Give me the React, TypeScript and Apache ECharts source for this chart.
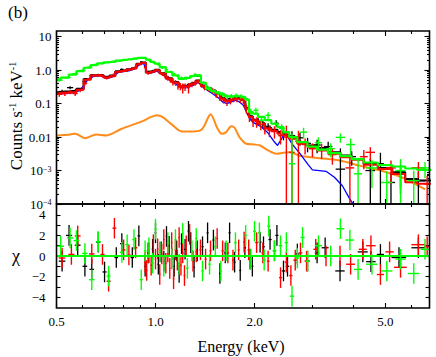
import React, { useEffect, useRef } from "react";
import * as echarts from "echarts";

// ---------------- axis ranges & ticks ----------------
const energyRange = [0.5, 6.81];
const countsRange = [1e-4, 14.8];
const chiRange = [-5.05, 5.05];

const xLabelValues = [0.5, 1.0, 2.0, 5.0];
const xLabelTexts = ["0.5", "1.0", "2.0", "5.0"];
const xMajorTickValues = [0.5, 1.0, 2.0, 5.0];
const xMinorTickValues = [0.6, 0.7, 0.8, 0.9, 3, 4, 6];
const countsDecades = [1e-4, 1e-3, 0.01, 0.1, 1, 10];
const countsDecadeLabels = ["10{s|−4}", "10{s|−3}", "0.01", "0.1", "1.0", "10"];
const chiTickValues = [-4, -3, -2, -1, 0, 1, 2, 3, 4];
const chiLabelValues = [-4, -2, 0, 2, 4];
const chiLabelTexts = ["−4", "−2", "0", "2", "4"];

// ---------------- folded models (counts s^-1 keV^-1) ----------------
const modelEnergy = [0.50,0.53,0.56,0.59,0.62,0.65,0.68,0.71,0.74,0.77,0.80,0.83,0.86,0.89,0.92,0.95,0.98,1.01,1.05,1.10,1.15,1.20,1.25,1.30,1.35,1.40,1.45,1.50,1.55,1.60,1.65,1.70,1.75,1.80,1.85,1.90,1.95,2.0,2.1,2.2,2.3,2.4,2.5,2.6,2.8,3.0,3.2,3.5,3.8,4.1,4.5,5.0,5.5,6.0,6.5,6.9];
const modelBlack = [0.22,0.23,0.24,0.28,0.54, 0.70,0.72,0.63,0.69,0.92, 0.97,1.06,1.14,1.55,1.70, 0.86,0.91,1.03,0.81,0.57, 0.44,0.33,0.345,0.39,0.49, 0.345,0.29,0.245,0.195,0.146, 0.123,0.129,0.145,0.145,0.138, 0.074,0.042,0.033,0.026,0.019, 0.0166,0.0141,0.012,0.010,0.0071, 0.0056,0.0047,0.0035,0.0028,0.0022, 0.0016,0.0012,0.00089,0.00056,0.00050, 0.00050];
const modelRed = [0.20,0.21,0.22,0.26,0.52, 0.69,0.71,0.60,0.66,0.89, 0.95,1.05,1.12,1.51,1.66, 0.83,0.89,1.0,0.79,0.55, 0.42,0.32,0.33,0.38,0.47, 0.33,0.28,0.24,0.19,0.141, 0.120,0.126,0.141,0.141,0.135, 0.071,0.040,0.032,0.025,0.018, 0.015,0.0126,0.0112,0.0089,0.0063, 0.0050,0.0040,0.0032,0.0025,0.0021, 0.0015,0.00112,0.00079,0.00045,0.00040, 0.00040];
const modelGreen = [0.53,0.60,0.74,0.93,1.18, 1.42,1.60,1.72,1.80,1.93, 2.02,2.12,2.22,2.32,2.32, 2.07,1.76,1.56,1.24,0.88, 0.70,0.55,0.59,0.67,0.70, 0.42,0.28,0.234,0.214,0.19, 0.166,0.158,0.166,0.166,0.158, 0.132,0.056,0.050,0.040,0.032, 0.025,0.020,0.0141,0.010,0.0071, 0.0052,0.0042,0.0033,0.0027,0.0022, 0.00174,0.00145,0.00132,0.00115,0.00105, 0.00105];

const blueEnergy = [0.50,0.53,0.56,0.59,0.62,0.65,0.68,0.71,0.74,0.77,0.80,0.83,0.86,0.89,0.92,0.95,0.98,1.01,1.05,1.10,1.15,1.20,1.25,1.30,1.35,1.40,1.45,1.50,1.55,1.60,1.65,1.70,1.75,1.80,1.85,1.90,1.95,2.0,2.1,2.2,2.3,2.35,2.45,2.5,2.6,2.75,2.9,3.0,3.15,3.3,3.5,3.7,3.9,4.05];
const blueValues = [0.19,0.20,0.21,0.25,0.50, 0.66,0.68,0.56,0.63,0.85, 0.91,0.95,1.07,1.41,1.58, 0.79,0.85,0.93,0.74,0.51, 0.39,0.295,0.30,0.35,0.43, 0.295,0.24,0.19,0.151,0.112, 0.10,0.112,0.126,0.112,0.089, 0.050,0.032, 0.026,0.020,0.0132,0.0071,0.0056,0.0112,0.012,0.0063,0.0032,0.00158,0.00105,0.0010,0.00095,0.00063,0.00035,0.00014,0.00008];

const orangeEnergy = [0.50,0.55,0.57,0.61,0.66,0.71,0.79,0.91,0.97,1.01,1.05,1.12,1.20,1.30,1.37,1.41,1.44,1.47,1.50,1.54,1.59,1.64,1.70,1.74,1.80,1.89,2.00,2.08,2.20,2.33,2.45,2.56,2.75,3.16,3.66,4.20,4.84,5.60,6.60];
const orangeValues = [0.0112,0.012,0.0126,0.0093,0.012,0.0112,0.0178,0.0295,0.040,0.045,0.040,0.024,0.0148,0.0148,0.0158,0.0224,0.0355,0.048,0.0355,0.019,0.0126,0.0141,0.021,0.019,0.010,0.0063,0.006,0.0056,0.004,0.0032,0.0034,0.0035,0.00275,0.00234,0.00195,0.00138,0.0010,0.00063,0.000275];

// ---------------- spectra: [E, half bin width, counts, error] ----------------
const dataBlack = [
  [0.52,0.012,0.23,0.03],[0.55,0.012,0.30,0.03],[0.58,0.012,0.26,0.03],[0.61,0.01,0.45,0.05],
  [0.64,0.01,0.70,0.06],[0.67,0.01,0.72,0.06],[0.70,0.01,0.62,0.05],[0.73,0.01,0.66,0.05],
  [0.76,0.01,0.85,0.06],[0.79,0.01,1.05,0.07],[0.82,0.01,1.0,0.07],[0.85,0.01,1.1,0.07],
  [0.88,0.008,1.4,0.08],[0.905,0.008,1.75,0.1],[0.93,0.008,1.3,0.08],[0.955,0.008,0.9,0.07],
  [0.98,0.008,0.95,0.07],[1.0,0.008,1.0,0.07],[1.03,0.01,0.85,0.06],[1.06,0.01,0.78,0.06],
  [1.09,0.01,0.62,0.05],[1.12,0.01,0.52,0.05],[1.15,0.012,0.45,0.04],[1.18,0.012,0.38,0.04],
  [1.22,0.012,0.34,0.04],[1.26,0.015,0.37,0.04],[1.30,0.015,0.41,0.04],[1.34,0.015,0.68,0.06],
  [1.38,0.015,0.36,0.04],[1.43,0.015,0.31,0.035],[1.48,0.02,0.27,0.03],[1.53,0.02,0.21,0.025],
  [1.58,0.02,0.16,0.02],[1.63,0.02,0.13,0.018],[1.68,0.02,0.14,0.018],[1.73,0.02,0.15,0.02],
  [1.78,0.02,0.155,0.02],[1.83,0.02,0.14,0.02],[1.88,0.02,0.085,0.015],[1.93,0.025,0.045,0.01],
  [1.98,0.025,0.034,0.008],[2.05,0.03,0.030,0.007],[2.12,0.03,0.024,0.006],[2.2,0.04,0.021,0.005],
  [2.33,0.04,0.026,0.006],[2.45,0.05,0.012,0.004],[2.6,0.06,0.011,0.004],[2.75,0.07,0.0095,0.004],
  [2.9,0.07,0.0065,0.003],[3.1,0.08,0.0058,0.0025],[3.35,0.10,0.0052,0.002],[3.65,0.12,0.0011,0.0035],
  [3.95,0.12,0.0026,0.0012],[4.5,0.15,0.001,0.0012],[4.83,0.12,0.0016,0.0018],[5.2,0.15,0.00044,0.0004],
  [5.56,0.2,0.00089,0.0006],[6.3,0.3,0.0005,0.0004]
];
const dataRed = [
  [0.51,0.01,0.19,0.03],[0.53,0.01,0.20,0.03],[0.55,0.01,0.22,0.03],[0.57,0.01,0.20,0.03],
  [0.59,0.01,0.25,0.03],[0.61,0.01,0.40,0.05],[0.63,0.01,0.55,0.05],[0.65,0.01,0.68,0.06],
  [0.67,0.01,0.70,0.06],[0.69,0.01,0.66,0.05],[0.71,0.01,0.58,0.05],[0.73,0.01,0.64,0.05],
  [0.75,0.01,0.75,0.06],[0.77,0.01,0.90,0.07],[0.79,0.01,0.92,0.07],[0.81,0.01,0.98,0.07],
  [0.83,0.01,1.02,0.07],[0.85,0.01,1.08,0.08],[0.87,0.008,1.25,0.08],[0.89,0.008,1.5,0.1],
  [0.91,0.008,1.65,0.1],[0.93,0.008,1.2,0.08],[0.95,0.008,0.8,0.07],[0.97,0.008,0.85,0.07],
  [0.99,0.008,0.95,0.07],[1.01,0.008,0.98,0.07],[1.03,0.008,0.85,0.07],[1.05,0.008,0.75,0.08],
  [1.07,0.008,0.66,0.08],[1.09,0.008,0.58,0.1],[1.11,0.008,0.5,0.08],[1.13,0.008,0.45,0.1],
  [1.15,0.008,0.42,0.08],[1.17,0.008,0.36,0.1],[1.19,0.008,0.33,0.08],[1.21,0.008,0.30,0.1],
  [1.23,0.01,0.32,0.08],[1.26,0.01,0.30,0.1],[1.29,0.01,0.38,0.07],[1.32,0.01,0.42,0.07],
  [1.35,0.01,0.46,0.06],[1.38,0.01,0.35,0.05],[1.41,0.012,0.30,0.05],[1.45,0.012,0.27,0.04],
  [1.49,0.012,0.24,0.04],[1.53,0.015,0.19,0.04],[1.57,0.015,0.15,0.03],[1.61,0.015,0.13,0.03],
  [1.65,0.015,0.115,0.03],[1.69,0.015,0.125,0.03],[1.73,0.015,0.14,0.03],[1.77,0.015,0.14,0.03],
  [1.81,0.015,0.135,0.03],[1.85,0.015,0.125,0.03],[1.89,0.02,0.07,0.02],[1.93,0.02,0.04,0.012],
  [1.98,0.02,0.030,0.01],[2.03,0.025,0.029,0.01],[2.09,0.025,0.024,0.008],[2.15,0.03,0.019,0.007],
  [2.22,0.03,0.016,0.006],[2.3,0.04,0.015,0.006],[2.4,0.04,0.011,0.005],[2.5,0.05,0.010,0.012],
  [2.6,0.05,0.0035,0.006],[2.72,0.06,0.0075,0.008],[2.85,0.06,0.006,0.003],[3.0,0.07,0.0045,0.002],
  [3.2,0.08,0.0042,0.002],[3.45,0.1,0.0030,0.0015],[3.9,0.12,0.0012,0.0014],[4.3,0.12,0.0026,0.0015],
  [4.5,0.15,0.0035,0.0015],[5.2,0.18,0.0012,0.0008],[5.56,0.2,0.0008,0.0006],[6.3,0.3,0.0012,0.0006],
  [6.7,0.15,0.0004,0.0003]
];
const dataGreen = [
  [0.51,0.012,0.50,0.05],[0.54,0.012,0.60,0.05],[0.57,0.012,0.78,0.06],[0.60,0.012,0.98,0.07],
  [0.63,0.012,1.22,0.08],[0.66,0.012,1.48,0.09],[0.69,0.012,1.60,0.1],[0.72,0.012,1.73,0.1],
  [0.75,0.012,1.78,0.1],[0.78,0.012,1.93,0.11],[0.81,0.012,2.03,0.11],[0.84,0.012,2.08,0.11],
  [0.87,0.012,2.22,0.12],[0.90,0.012,2.33,0.12],[0.93,0.012,2.28,0.12],[0.96,0.012,1.93,0.11],
  [0.99,0.012,1.68,0.1],[1.02,0.012,1.48,0.1],[1.05,0.012,1.18,0.09],[1.08,0.012,1.03,0.08],
  [1.11,0.012,0.90,0.07],[1.14,0.012,0.77,0.07],[1.17,0.012,0.67,0.06],[1.20,0.012,0.59,0.06],
  [1.24,0.015,0.57,0.06],[1.28,0.015,0.63,0.06],[1.32,0.015,0.74,0.07],[1.36,0.015,0.69,0.07],
  [1.40,0.015,0.42,0.05],[1.45,0.02,0.29,0.04],[1.50,0.02,0.24,0.03],[1.55,0.02,0.21,0.03],
  [1.60,0.02,0.19,0.03],[1.65,0.02,0.165,0.025],[1.70,0.025,0.17,0.025],[1.76,0.025,0.175,0.025],
  [1.82,0.025,0.165,0.025],[1.88,0.03,0.14,0.02],[1.95,0.03,0.058,0.012],[2.02,0.035,0.063,0.012],
  [2.1,0.035,0.032,0.008],[2.2,0.04,0.045,0.01],[2.32,0.05,0.025,0.007],[2.42,0.05,0.018,0.006],
  [2.6,0.06,0.0016,0.011],[2.82,0.07,0.014,0.005],[3.13,0.08,0.0068,0.003],[3.41,0.1,0.0045,0.002],
  [3.65,0.12,0.0098,0.003],[3.92,0.12,0.006,0.003],[4.13,0.12,0.0008,0.0016],[4.55,0.18,0.0012,0.0009],
  [5.05,0.2,0.00044,0.0005],[5.56,0.2,0.001,0.0012],[6.1,0.25,0.0005,0.0005],[6.6,0.25,0.0012,0.0006]
];

// ---------------- residuals: [E, half bin width, chi] ----------------
const resBlack = [
  [0.52,0.012,-0.5],[0.546,0.012,2.0],[0.58,0.012,1.05],[0.61,0.01,-1.0],[0.64,0.01,-1.3],
  [0.67,0.01,1.35],[0.70,0.01,-1.55],[0.76,0.01,-0.15],[0.79,0.01,1.2],[0.85,0.01,-0.15],
  [0.89,0.008,1.95],[0.93,0.006,-1.0],[0.95,0.006,0.3],[0.98,0.006,0.65],[1.0,0.006,2.25],
  [1.02,0.006,-0.8],[1.04,0.006,0.4],[1.06,0.006,-0.5],[1.08,0.006,1.9],[1.10,0.006,0.95],
  [1.12,0.006,-0.2],[1.14,0.006,-1.0],[1.16,0.007,0.5],[1.18,0.007,-1.6],[1.20,0.007,1.2],
  [1.23,0.008,0.65],[1.26,0.008,2.4],[1.28,0.008,1.3],[1.31,0.008,-1.1],[1.34,0.008,0.5],
  [1.39,0.01,0.9],[1.44,0.01,2.25],[1.50,0.01,1.55],[1.57,0.01,-1.7],[1.63,0.012,0.3],
  [1.68,0.012,2.25],[1.74,0.012,-0.6],[1.81,0.012,-1.4],[1.87,0.015,0.8],[1.94,0.015,-0.3],
  [1.97,0.015,-1.0],[2.08,0.02,1.35],[2.13,0.02,0.9],[2.23,0.025,1.6],[2.34,0.025,2.0],
  [2.45,0.03,-1.45],[2.52,0.03,-1.0],[2.7,0.04,0.2],[2.9,0.05,-0.5],[3.1,0.05,0.3],
  [3.28,0.08,0.8],[3.64,0.12,-1.45],[4.27,0.15,0.4],[4.52,0.15,-0.55],[4.83,0.12,0.15],
  [5.5,0.28,-0.15],[6.3,0.3,0.8]
];
const resRed = [
  [0.52,0.012,-0.2],[0.555,0.012,0.15],[0.58,0.012,1.95],[0.64,0.012,0.2],[0.69,0.01,0.15],
  [0.72,0.01,-2.45],[0.75,0.01,2.7],[0.80,0.01,0.6],[0.83,0.01,0.1],[0.87,0.01,0.8],
  [0.93,0.005,-0.6],[0.94,0.005,-1.4],[0.955,0.005,0.3],[0.97,0.005,-0.9],[0.985,0.005,1.1],
  [1.0,0.005,-0.3],[1.015,0.005,0.7],[1.03,0.005,-1.8],[1.045,0.005,0.2],[1.06,0.005,1.6],
  [1.075,0.005,-0.7],[1.09,0.005,0.4],[1.105,0.005,-1.2],[1.12,0.006,1.3],[1.135,0.006,-2.2],
  [1.15,0.006,0.6],[1.165,0.006,-0.4],[1.18,0.006,1.8],[1.195,0.006,-0.9],[1.21,0.007,0.3],
  [1.225,0.007,-1.9],[1.24,0.007,1.0],[1.27,0.008,2.1],[1.30,0.008,-0.5],[1.33,0.008,0.4],
  [1.37,0.009,0.6],[1.42,0.01,-0.3],[1.47,0.01,0.5],[1.54,0.01,1.7],[1.60,0.012,0.5],
  [1.66,0.012,0.3],[1.72,0.012,-0.4],[1.79,0.012,0.6],[1.86,0.015,1.35],[1.92,0.015,0.6],
  [2.03,0.02,1.3],[2.12,0.02,0.3],[2.2,0.02,-0.5],[2.3,0.025,0.5],[2.40,0.025,-2.1],
  [2.5,0.03,-0.6],[2.58,0.03,-1.9],[2.66,0.035,-0.4],[2.76,0.035,0.3],[2.88,0.04,-0.5],
  [3.07,0.05,0.65],[3.3,0.07,0.0],[3.64,0.12,0.0],[3.92,0.12,-0.8],[4.27,0.12,0.65],
  [4.52,0.15,1.0],[4.83,0.12,-1.8],[5.15,0.15,0.4],[5.56,0.25,-1.1],[6.3,0.3,1.1],[6.7,0.15,0.9]
];
const resGreen = [
  [0.515,0.012,0.95],[0.55,0.012,1.75],[0.575,0.012,1.5],[0.61,0.012,0.25],[0.64,0.012,-2.3],
  [0.67,0.012,1.4],[0.72,0.01,-1.95],[0.79,0.01,0.35],[0.82,0.01,1.1],[0.86,0.01,1.6],
  [0.905,0.01,-2.3],[0.93,0.008,0.5],[0.955,0.008,0.8],[0.98,0.008,-0.7],[1.0,0.008,2.6],
  [1.03,0.008,0.4],[1.06,0.008,-1.0],[1.09,0.008,1.3],[1.12,0.008,-0.3],[1.15,0.008,1.6],
  [1.18,0.008,-0.8],[1.21,0.008,2.2],[1.25,0.01,-1.2],[1.29,0.01,0.5],[1.33,0.01,1.7],
  [1.39,0.012,-1.45],[1.46,0.012,-0.8],[1.52,0.012,0.9],[1.58,0.012,-1.45],[1.64,0.015,0.5],
  [1.75,0.015,1.3],[1.88,0.015,2.0],[1.95,0.02,-0.3],[2.0,0.02,2.4],[2.07,0.02,2.25],
  [2.14,0.025,-0.4],[2.21,0.025,2.9],[2.3,0.03,0.5],[2.4,0.03,1.0],[2.5,0.03,1.3],
  [2.6,0.04,-3.9],[2.7,0.04,-0.2],[2.8,0.04,1.8],[2.9,0.05,-0.5],[3.13,0.08,1.0],
  [3.41,0.1,0.0],[3.65,0.1,2.65],[3.9,0.12,1.55],[4.13,0.12,-1.3],[4.55,0.18,-0.8],
  [5.05,0.2,-1.45],[5.56,0.2,-0.3],[6.1,0.25,-1.7],[6.6,0.2,0.65]
];

// ---------------- styling ----------------
const FONT = "Liberation Serif, serif";
const C_BLACK = "#000000";
const C_RED = "#ff0000";
const C_GREEN = "#00ff00";
const C_BLUE = "#0000ff";
const C_ORANGE = "#ff8c1a";

const L = Math.log10;

function nearestIndex(arr: number[], v: number) {
  let best = 0;
  for (let i = 1; i < arr.length; i++) if (Math.abs(arr[i] - v) < Math.abs(arr[best] - v)) best = i;
  return best;
}

function countsMinorTicks() {
  const out: number[] = [];
  for (let n = -4; n <= 1; n++) {
    for (let k = 2; k <= 9; k++) {
      const v = k * Math.pow(10, n);
      if (v < countsRange[1]) out.push(v);
    }
  }
  return out;
}

function xAxisDef(gridIndex: number, position: string, ticks: number[], len: number, labels: boolean) {
  const lv = xLabelValues.map(L);
  return {
    type: "value",
    gridIndex,
    position,
    min: L(energyRange[0]),
    max: L(energyRange[1]),
    axisLine: { show: false, onZero: false },
    splitLine: { show: false },
    axisTick: { show: true, inside: true, length: len, customValues: ticks.map(L), lineStyle: { color: "#000", width: 1.1 } },
    axisLabel: labels
      ? {
          show: true,
          customValues: lv,
          margin: 7,
          fontFamily: FONT,
          fontSize: 13,
          color: "#000",
          formatter: (v: number) => xLabelTexts[nearestIndex(lv, v)],
        }
      : { show: false },
  };
}

function yTopDef(position: string, ticks: number[], len: number, labels: boolean) {
  const lv = countsDecades.map(L);
  return {
    type: "value",
    gridIndex: 0,
    position,
    min: L(countsRange[0]),
    max: L(countsRange[1]),
    axisLine: { show: false, onZero: false },
    splitLine: { show: false },
    axisTick: { show: true, inside: true, length: len, customValues: ticks.map(L), lineStyle: { color: "#000", width: 1.1 } },
    axisLabel: labels
      ? {
          show: true,
          customValues: lv,
          margin: 5,
          fontFamily: FONT,
          fontSize: 13,
          color: "#000",
          lineHeight: 11,
          formatter: (v: number) => countsDecadeLabels[nearestIndex(lv, v)],
          rich: { s: { fontFamily: FONT, fontSize: 8, lineHeight: 8, verticalAlign: "top", color: "#000" } },
        }
      : { show: false },
  };
}

function yChiDef(position: string, labels: boolean) {
  return {
    type: "value",
    gridIndex: 1,
    position,
    min: chiRange[0],
    max: chiRange[1],
    axisLine: { show: false, onZero: false },
    splitLine: { show: false },
    axisTick: { show: true, inside: true, length: 4, customValues: chiTickValues, lineStyle: { color: "#000", width: 1.1 } },
    axisLabel: labels
      ? {
          show: true,
          customValues: chiLabelValues,
          margin: 11,
          fontFamily: FONT,
          fontSize: 13,
          lineHeight: 11,
          color: "#000",
          formatter: (v: number) => chiLabelTexts[nearestIndex(chiLabelValues, v)],
        }
      : { show: false },
  };
}

function crossSeries(rows: number[][], color: string, axisIndex: number, top: boolean, lw: number, z: number) {
  const data = rows.map((r) => {
    const e = r[0], hw = r[1];
    if (top) {
      const v = r[2], err = r[3];
      const lo = Math.max(v - err, countsRange[0]);
      return [L(e - hw), L(e + hw), L(e), L(v), L(lo), L(v + err)];
    }
    const chi = r[2];
    return [L(e - hw), L(e + hw), L(e), chi, chi - 1, chi + 1];
  });
  return {
    type: "custom",
    xAxisIndex: axisIndex,
    yAxisIndex: axisIndex,
    clip: true,
    z,
    encode: { x: 2, y: 3 },
    data,
    renderItem: (_params: any, api: any) => {
      const a = api.coord([api.value(0), api.value(3)]);
      const b = api.coord([api.value(1), api.value(3)]);
      const c = api.coord([api.value(2), api.value(4)]);
      const d = api.coord([api.value(2), api.value(5)]);
      return {
        type: "group",
        children: [
          { type: "line", shape: { x1: a[0], y1: a[1], x2: b[0], y2: b[1] }, style: { stroke: color, lineWidth: lw } },
          { type: "line", shape: { x1: c[0], y1: c[1], x2: d[0], y2: d[1] }, style: { stroke: color, lineWidth: lw } },
        ],
      };
    },
  };
}

function lineSeries(es: number[], vs: number[], color: string, width: number, z: number, step: any, smooth: any) {
  return {
    type: "line",
    xAxisIndex: 0,
    yAxisIndex: 0,
    data: es.map((e, i) => [L(e), L(vs[i])]),
    step,
    smooth,
    showSymbol: false,
    symbol: "none",
    silent: true,
    clip: true,
    z,
    lineStyle: { color, width },
  };
}

function buildOption() {
  const xMin = L(energyRange[0]);
  const xMax = L(energyRange[1]);
  const minorCounts = countsMinorTicks();
  return {
    animation: false,
    backgroundColor: "#ffffff",
    textStyle: { fontFamily: FONT },
    grid: [
      { left: 56.5, right: 6.5, top: 31, height: 173, show: true, borderColor: "#000", borderWidth: 1.6, backgroundColor: "transparent", z: 30 },
      { left: 56.5, right: 6.5, top: 204, height: 104, show: true, borderColor: "#000", borderWidth: 1.6, backgroundColor: "transparent", z: 30 },
    ],
    xAxis: [
      xAxisDef(0, "bottom", xMajorTickValues, 5, false),
      xAxisDef(0, "bottom", xMinorTickValues, 3, false),
      xAxisDef(0, "top", xMajorTickValues, 5, false),
      xAxisDef(0, "top", xMinorTickValues, 3, false),
      xAxisDef(1, "bottom", xMajorTickValues, 5, true),
      xAxisDef(1, "bottom", xMinorTickValues, 3, false),
      xAxisDef(1, "top", xMajorTickValues, 5, false),
      xAxisDef(1, "top", xMinorTickValues, 3, false),
    ],
    yAxis: [
      yTopDef("left", countsDecades, 5, true),
      yTopDef("left", minorCounts, 2.5, false),
      yTopDef("right", countsDecades, 5, false),
      yTopDef("right", minorCounts, 2.5, false),
      yChiDef("left", true),
      yChiDef("right", false),
    ],
    graphic: [
      { type: "text", left: 8, top: 4, style: { text: "(b)", fontFamily: FONT, fontSize: 17, fill: "#000" } },
      {
        type: "text",
        x: 16,
        y: 116,
        rotation: Math.PI / 2,
        style: {
          text: "Counts s{s|-1} keV{s|-1}",
          fontFamily: FONT,
          fontSize: 17,
          fill: "#000",
          align: "center",
          verticalAlign: "middle",
          lineHeight: 18,
          rich: { s: { fontFamily: FONT, fontSize: 10, lineHeight: 11, verticalAlign: "top", fill: "#000" } },
        },
      },
      { type: "text", x: 16, y: 256, style: { text: "χ", fontFamily: FONT, fontSize: 18, fill: "#000", align: "center", verticalAlign: "middle" } },
      { type: "text", x: 241, y: 346, style: { text: "Energy (keV)", fontFamily: FONT, fontSize: 16, fill: "#000", align: "center", verticalAlign: "middle" } },
    ],
    series: [
      lineSeries(orangeEnergy, orangeValues, C_ORANGE, 2, 2, false, 0.3),
      lineSeries(modelEnergy, modelBlack, C_BLACK, 2, 3, "middle", false),
      crossSeries(dataBlack, C_BLACK, 0, true, 1.3, 4),
      lineSeries(blueEnergy, blueValues, C_BLUE, 1.3, 5, false, false),
      lineSeries(modelEnergy, modelRed, C_RED, 2, 6, "middle", false),
      crossSeries(dataRed, C_RED, 0, true, 1.4, 7),
      lineSeries(modelEnergy, modelGreen, C_GREEN, 2.2, 8, "middle", false),
      crossSeries(dataGreen, C_GREEN, 0, true, 1.4, 9),
      crossSeries(resBlack, C_BLACK, 4, false, 1.3, 4),
      crossSeries(resRed, C_RED, 4, false, 1.4, 5),
      crossSeries(resGreen, C_GREEN, 4, false, 1.4, 6),
      {
        type: "line",
        xAxisIndex: 4,
        yAxisIndex: 4,
        data: [[xMin, 0], [xMax, 0]],
        showSymbol: false,
        symbol: "none",
        silent: true,
        z: 10,
        lineStyle: { color: C_GREEN, width: 2 },
      },
    ],
  };
}

export default function App() {
  const ref = useRef<HTMLDivElement>(null);
  useEffect(() => {
    if (!ref.current) return;
    const chart = echarts.init(ref.current, null, { renderer: "svg" });
    chart.setOption(buildOption() as any);
    return () => chart.dispose();
  }, []);
  return (
    <div
      ref={ref}
      style={{ position: "fixed", left: 0, top: 0, width: 436, height: 357, background: "#fff" }}
    />
  );
}
